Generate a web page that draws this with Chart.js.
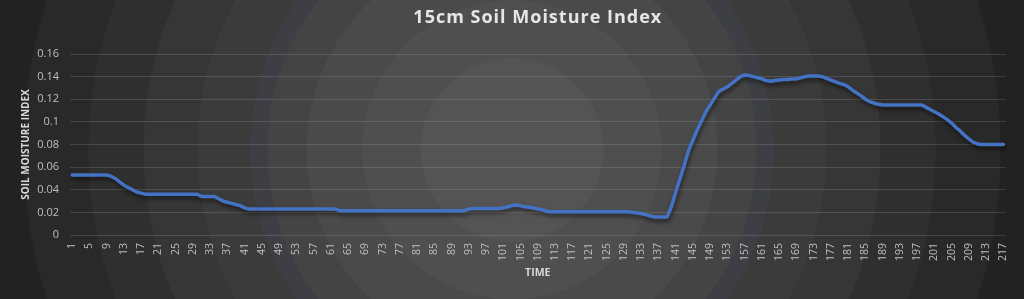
<!DOCTYPE html>
<html>
<head>
<meta charset="utf-8">
<script src="https://cdn.jsdelivr.net/npm/chart.js@4"></script>
<style>
html,body{margin:0;padding:0;background:#222;}
#wrap{width:1024px;height:299px;position:relative;}
</style>
</head>
<body>
<div id="wrap"><canvas id="c" width="1024" height="299"></canvas></div>
<script>
const chartTitle = "15cm Soil Moisture Index";
const xAxisTitle = "TIME";
const yAxisTitle = "SOIL MOISTURE INDEX";

const moisture = [
  0.053,0.053,0.053,0.053,0.053,0.053,0.053,0.053,0.053,
  0.052,0.050,0.047,0.044,0.042,0.040,0.038,0.037,0.036,
  0.036,0.036,0.036,0.036,0.036,0.036,0.036,0.036,0.036,0.036,0.036,0.036,
  0.034,0.034,0.034,0.034,
  0.032,0.030,0.029,0.028,0.027,0.026,0.024,
  0.023,0.023,0.023,0.023,0.023,0.023,0.023,0.023,0.023,0.023,0.023,0.023,0.023,0.023,0.023,0.023,0.023,0.023,0.023,0.023,0.023,
  0.0215,0.0215,0.0215,0.0215,0.0215,0.0215,0.0215,0.0215,0.0215,0.0215,0.0215,0.0215,0.0215,0.0215,0.0215,
  0.0215,0.0215,0.0215,0.0215,0.0215,0.0215,0.0215,0.0215,0.0215,0.0215,0.0215,0.0215,0.0215,0.0215,0.0215,
  0.023,0.0235,0.0235,0.0235,0.0235,0.0235,0.0235,0.0235,
  0.024,0.025,0.026,0.0265,0.026,0.025,0.0245,0.024,0.023,0.0225,0.021,0.0205,
  0.0205,0.0205,0.0205,0.0205,0.0205,0.0205,0.0205,0.0205,0.0205,0.0205,0.0205,0.0205,0.0205,0.0205,0.0205,0.0205,0.0205,0.0205,
  0.020,0.0195,0.019,0.018,0.017,0.016,0.016,0.016,0.016,
  0.025,0.038,0.050,0.062,0.075,0.084,0.093,0.101,0.109,0.115,0.121,0.127,0.129,0.131,0.134,0.137,0.140,
  0.1415,0.141,0.140,0.139,0.138,0.1365,0.136,0.1365,0.137,0.1375,0.1375,0.138,0.138,0.139,0.140,0.1405,0.1405,0.1405,0.140,
  0.1385,0.137,0.1355,0.134,0.133,0.131,0.128,0.1255,0.123,0.120,0.118,0.1165,0.1155,
  0.115,0.115,0.115,0.115,0.115,0.115,0.115,0.115,0.115,0.115,
  0.113,0.111,0.109,0.107,0.1045,0.102,0.099,0.095,0.092,0.088,0.085,0.082,0.0805,
  0.080,0.080,0.080,0.080,0.080,0.080
];

const categories = moisture.map((_, i) => String(i + 1));

const tickLabels = ["1","5","9","13","17","21","25","29","33","37","41","45","49","53","57","61","65","69","73","77","81","85","89","93","97","101","105","109","113","117","121","125","129","133","137","141","145","149","153","157","161","165","169","173","177","181","185","189","193","197","201","205","209","213","217"];

const yTicks = [0,0.02,0.04,0.06,0.08,0.1,0.12,0.14,0.16];

const bgPlugin = {
  id: 'bg',
  beforeDraw(chart) {
    const ctx = chart.ctx;
    const cx = 512, cy = 150, R = 560;
    const g = ctx.createRadialGradient(cx, cy, 0, cx, cy, R);
    const bands = [
      [0, '#545454'], [92, '#4f4f4f'], [150, '#4a4a4a'], [206, '#444444'],
      [245, '#3e3f45'], [262, '#3b3b3b'], [315, '#363636'], [369, '#2f2f2f'],
      [424, '#292929'], [489, '#222222']
    ];
    for (let k = 0; k < bands.length; k++) {
      const r0 = bands[k][0] / R;
      const r1 = k + 1 < bands.length ? bands[k + 1][0] / R : 1;
      g.addColorStop(r0, bands[k][1]);
      g.addColorStop(Math.max(r0, r1 - 0.002), bands[k][1]);
    }
    ctx.save();
    ctx.fillStyle = g;
    ctx.fillRect(0, 0, chart.width, chart.height);
    ctx.restore();
  }
};

const titlePlugin = {
  id: 'ctitle',
  afterDraw(chart) {
    const ctx = chart.ctx;
    const a = chart.chartArea;
    ctx.save();
    ctx.font = 'bold 18px "Open Sans"';
    ctx.fillStyle = '#e6e6e6';
    ctx.textAlign = 'center';
    ctx.textBaseline = 'middle';
    try { ctx.letterSpacing = '1px'; } catch (e) {}
    ctx.fillText(chartTitle, (a.left + a.right) / 2, 18);
    ctx.restore();
  }
};

const shadowPlugin = {
  id: 'lshadow',
  beforeDatasetsDraw(chart) {
    const ctx = chart.ctx;
    ctx.save();
    ctx.shadowColor = 'rgba(0,0,0,0.55)';
    ctx.shadowBlur = 4;
    ctx.shadowOffsetX = 1;
    ctx.shadowOffsetY = 3;
  },
  afterDatasetsDraw(chart) {
    chart.ctx.restore();
  }
};

new Chart(document.getElementById('c'), {
  type: 'line',
  data: {
    labels: categories,
    datasets: [{
      data: moisture,
      borderColor: '#4472c4',
      borderWidth: 3.5,
      pointRadius: 0,
      tension: 0,
      fill: false,
      borderJoinStyle: 'round',
      borderCapStyle: 'round'
    }]
  },
  options: {
    responsive: false,
    animation: false,
    devicePixelRatio: 1,
    layout: { padding: { left: 0, right: 15, top: 54, bottom: 20 } },
    plugins: {
      legend: { display: false },
      title: { display: false },
      tooltip: { enabled: false }
    },
    scales: {
      x: {
        type: 'category',
        offset: true,
        grid: { display: false, drawTicks: false },
        border: { display: false },
        ticks: {
          autoSkip: false,
          maxRotation: 90,
          minRotation: 90,
          padding: 8,
          color: '#bfbfbf',
          font: { family: '"Open Sans"', size: 10.5 },
          callback: function(v, i) {
            const lab = categories[i];
            return tickLabels.includes(lab) ? lab : null;
          }
        },
        title: {
          display: true,
          text: xAxisTitle,
          color: '#d9d9d9',
          font: { family: '"Open Sans"', size: 10.5, weight: 'bold' },
          padding: { top: 0, bottom: 0 }
        },
        afterFit(s) { s.height = 44; }
      },
      y: {
        min: 0,
        max: 0.16,
        afterBuildTicks(s) { s.ticks = yTicks.map(v => ({ value: v })); },
        grid: { color: 'rgba(255,255,255,0.13)', lineWidth: 1, drawTicks: false },
        border: { display: false },
        ticks: {
          padding: 11,
          color: '#bfbfbf',
          font: { family: '"Open Sans"', size: 11 },
          callback: v => String(+v.toFixed(2))
        },
        title: {
          display: true,
          text: yAxisTitle,
          color: '#d9d9d9',
          font: { family: '"Open Sans"', size: 10, weight: 'bold' },
          padding: { top: 20, bottom: 0 }
        },
        afterFit(s) { s.width = 70; }
      }
    }
  },
  plugins: [bgPlugin, shadowPlugin, titlePlugin]
});
</script>
</body>
</html>
